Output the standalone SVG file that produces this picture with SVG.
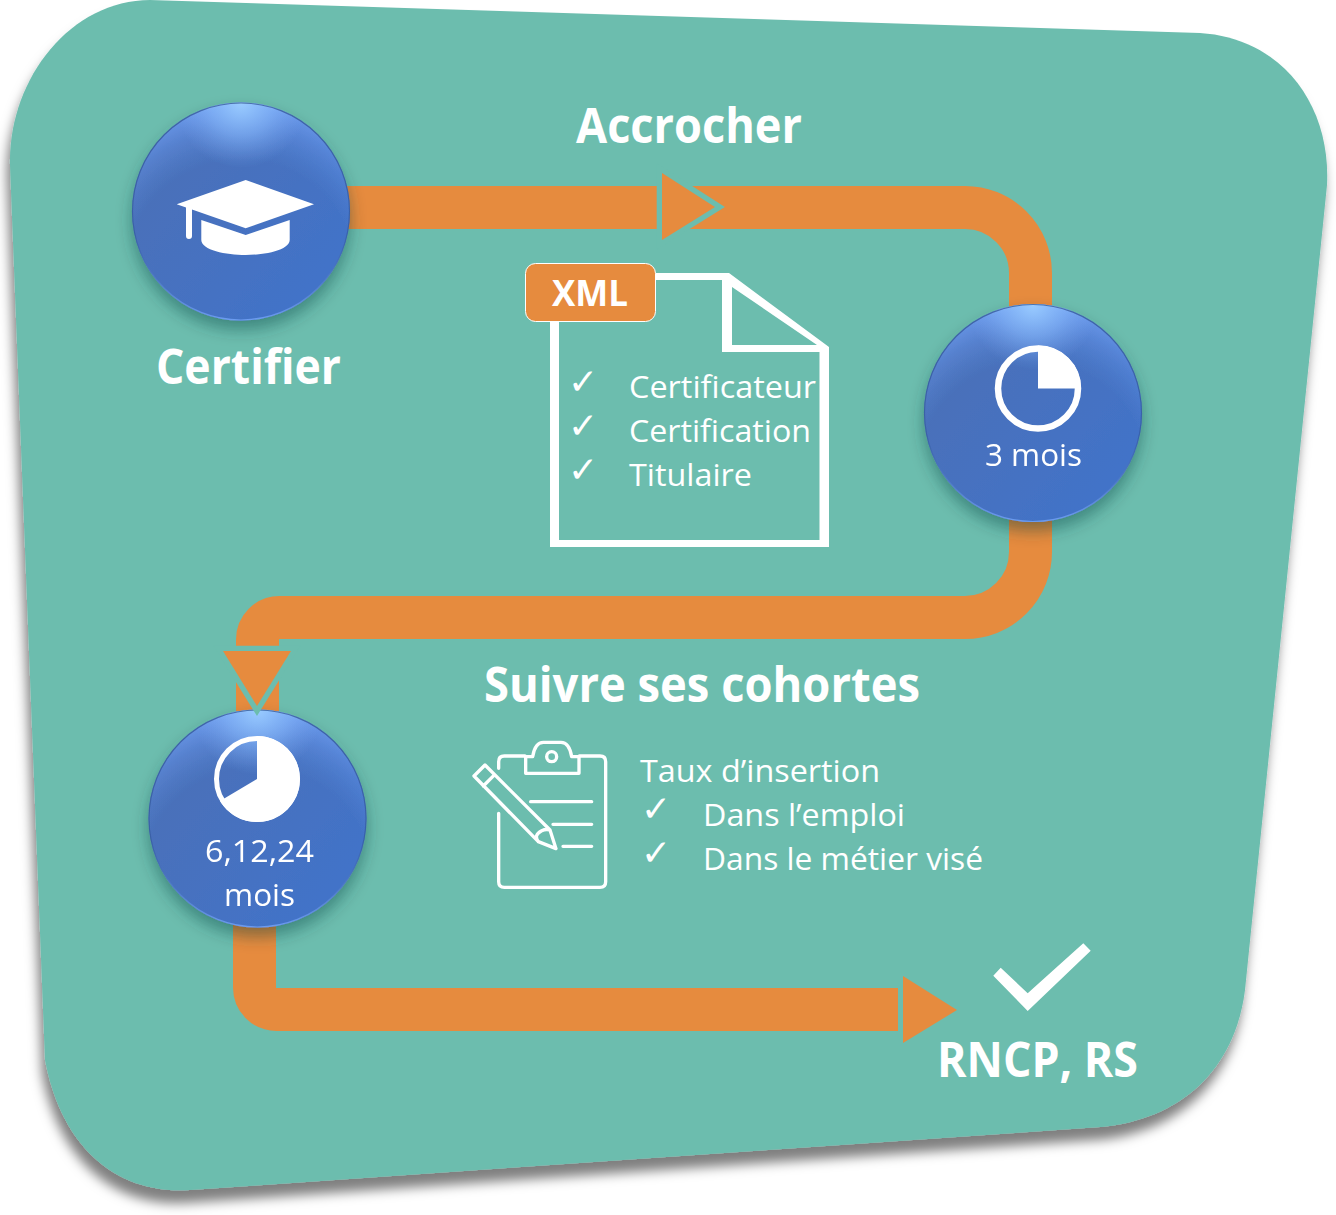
<svg xmlns="http://www.w3.org/2000/svg" width="1336" height="1215" viewBox="0 0 1336 1215">
<defs>
<filter id="panelShadow" x="-5%" y="-5%" width="110%" height="110%"><feDropShadow dx="-3" dy="13" stdDeviation="6" flood-color="#000" flood-opacity="0.5"/></filter>
<filter id="ballShadow" x="-20%" y="-20%" width="140%" height="145%"><feDropShadow dx="0" dy="9" stdDeviation="8" flood-color="#0b3a3a" flood-opacity="0.42"/></filter>
<linearGradient id="ballBase" x1="0.15" y1="0.2" x2="0.85" y2="0.8"><stop offset="0" stop-color="#4a70b8"/><stop offset="1" stop-color="#4273c8"/></linearGradient>
<radialGradient id="ballGlow" cx="0.5" cy="0.8" r="0.81"><stop offset="0.66" stop-color="#5f90e0" stop-opacity="0"/><stop offset="0.84" stop-color="#6a9bf0" stop-opacity="0.4"/><stop offset="0.95" stop-color="#6f9ff2" stop-opacity="0.75"/><stop offset="1" stop-color="#7fb0f8" stop-opacity="0.85"/></radialGradient>
<radialGradient id="ballSpot" cx="0.5" cy="0" r="0.3"><stop offset="0" stop-color="#9accff"/><stop offset="0.5" stop-color="#8abcff" stop-opacity="0.55"/><stop offset="1" stop-color="#7aa8f4" stop-opacity="0"/></radialGradient>
<linearGradient id="ballRim" x1="0" y1="0" x2="0" y2="1"><stop offset="0" stop-color="#2d4f8c" stop-opacity="0.7"/><stop offset="0.6" stop-color="#34599f" stop-opacity="0.7"/><stop offset="1" stop-color="#6c9cf0"/></linearGradient>
</defs>
<style>
.band{fill:none;stroke:#e68b3e;stroke-width:43}
.head{fill:#e68b3e}
.headOut{fill:#e68b3e;stroke:#6cbdae;stroke-width:10.6;paint-order:stroke;stroke-linejoin:miter;stroke-miterlimit:8}
.base{fill:url(#ballBase)}
.glow{fill:url(#ballGlow)}
.spot{fill:url(#ballSpot)}
.rim{fill:none;stroke:url(#ballRim);stroke-width:1.2}
text{fill:#fff;font-family:"Open Sans","Noto Sans","DejaVu Sans",sans-serif}
.title{font-size:48px;font-weight:700}
.body{font-size:31px}
.tick{font-family:"DejaVu Sans",sans-serif;font-size:36px}
.icon{fill:#fff}
.thin{fill:none;stroke:#fff;stroke-width:10;stroke-linejoin:round;stroke-linecap:round}
</style>

<g id="panel"><path d="M150 0 L1200 33 C1282 38 1331 105 1327 185 L1245 990 C1235 1070 1180 1120 1100 1127 L190 1190 C110 1195 60 1140 45 1060 L10 165 C8 80 70 0 150 0Z" fill="#6cbdae" filter="url(#panelShadow)"/></g>

<g id="connectors">
<path class="band" d="M345 207.5H965A65.5 65.5 0 0 1 1030.5 273V552A65.5 65.5 0 0 1 965 617.5H279.5A22 22 0 0 0 257.5 639.5V720"/>
<path class="band" d="M254.5 920V987.5A22 22 0 0 0 276.5 1009.5H898"/>
<polygon class="head" points="903,976 903,1043 957,1010"/>
</g>

<g id="node-certifier" filter="url(#ballShadow)">
<circle class="base" cx="241" cy="211.5" r="109"/><circle class="glow" cx="241" cy="211.5" r="109"/><circle class="spot" cx="241" cy="211.5" r="109"/><circle class="rim" cx="241" cy="211.5" r="108.5"/>
<path class="icon" d="M245.7 180L314 204.3L245.7 228.3L192 209.5V236A3 3 0 0 1 186 236V207.5L176.7 204.3Z"/>
<path class="icon" d="M201.3 220L245.7 235L289.7 220V240C289.7 250 265 255 245.7 255C226 255 201.3 250 201.3 240Z"/>
</g>

<g id="node-3mois" filter="url(#ballShadow)">
<circle class="base" cx="1033" cy="413" r="109"/><circle class="glow" cx="1033" cy="413" r="109"/><circle class="spot" cx="1033" cy="413" r="109"/><circle class="rim" cx="1033" cy="413" r="108.5"/>
<circle cx="1038" cy="388.500" r="40" fill="none" stroke="#fff" stroke-width="6.500"/>
<path class="icon" d="M1038 388.500V345.500A43 43 0 0 1 1081 388.500Z"/>
<text class="body" x="985" y="466" textLength="97" lengthAdjust="spacingAndGlyphs">3 mois</text>
</g>

<g id="node-6-12-24" filter="url(#ballShadow)">
<circle class="base" cx="257.500" cy="818.500" r="109"/><circle class="glow" cx="257.500" cy="818.500" r="109"/><circle class="spot" cx="257.500" cy="818.500" r="109"/><circle class="rim" cx="257.500" cy="818.500" r="108.500"/>
<circle cx="257" cy="779" r="40.500" fill="none" stroke="#fff" stroke-width="5"/>
<path class="icon" d="M257 779V736A43 43 0 1 1 220 801Z"/>
<text class="body" x="205" y="862" textLength="109" lengthAdjust="spacingAndGlyphs">6,12,24</text>
<text class="body" x="224" y="906" textLength="71" lengthAdjust="spacingAndGlyphs">mois</text>
</g>

<g id="arrowheads">
<polygon class="headOut" points="662,173 662,240 715,207"/>
<polygon class="headOut" points="223,651 291,651 257,706"/>
</g>

<g id="label-accrocher"><text class="title" x="576" y="143" textLength="226" lengthAdjust="spacingAndGlyphs">Accrocher</text></g>
<g id="label-certifier"><text class="title" x="156" y="384" textLength="185" lengthAdjust="spacingAndGlyphs">Certifier</text></g>

<g id="document">
<path class="icon" fill-rule="evenodd" d="M550 273H729L829 347V547H550ZM559 280V540H819.500V352H722V280ZM732 287V345H817Z"/>
<rect x="525.500" y="263.500" width="130" height="58" rx="10" fill="#e68b3e" stroke="#fff" stroke-width="1"/>
<text x="552" y="306" font-size="36" font-weight="700" textLength="76" lengthAdjust="spacingAndGlyphs">XML</text>
<text class="tick" x="568" y="394">✓</text>
<text class="tick" x="568" y="438">✓</text>
<text class="tick" x="568" y="482">✓</text>
<text class="body" x="629" y="398" textLength="187" lengthAdjust="spacingAndGlyphs">Certificateur</text>
<text class="body" x="629" y="442" textLength="182" lengthAdjust="spacingAndGlyphs">Certification</text>
<text class="body" x="629" y="486" textLength="123" lengthAdjust="spacingAndGlyphs">Titulaire</text>
</g>

<g id="label-suivre"><text class="title" x="484" y="702" textLength="436" lengthAdjust="spacingAndGlyphs">Suivre ses cohortes</text></g>

<g id="clipboard" transform="translate(460 730) scale(.33333)">
<path class="thin" d="M116 115V95Q116 78 133 78H195M358 78H420Q437 78 437 95V455Q437 472 420 472H133Q116 472 116 455V250"/>
<path class="thin" d="M197 130V80H218Q225 37 250 37H303Q328 37 335 80H357V130Z"/>
<circle class="thin" cx="275" cy="80" r="15"/>
<path class="thin" d="M212 215H395M279 283H395M309 349H395"/>
<path class="thin" d="M42 138L75 105L270 300L288 356L235 335ZM70 168L104 134M235 335Q220 315 245 302Q258 296 270 300"/>
</g>

<g id="insertion-text">
<text class="body" x="640" y="782" textLength="240" lengthAdjust="spacingAndGlyphs">Taux d’insertion</text>
<text class="tick" x="641" y="821">✓</text>
<text class="tick" x="641" y="865">✓</text>
<text class="body" x="703" y="826" textLength="202" lengthAdjust="spacingAndGlyphs">Dans l’emploi</text>
<text class="body" x="703" y="870" textLength="280" lengthAdjust="spacingAndGlyphs">Dans le métier visé</text>
</g>

<g id="node-rncp">
<polygon class="icon" points="993.300,975.700 1000.700,967.700 1027.700,993.300 1083.300,943.300 1090.700,950.700 1027.700,1011"/>
<text class="title" x="937" y="1077" textLength="201" lengthAdjust="spacingAndGlyphs">RNCP, RS</text>
</g>
</svg>
